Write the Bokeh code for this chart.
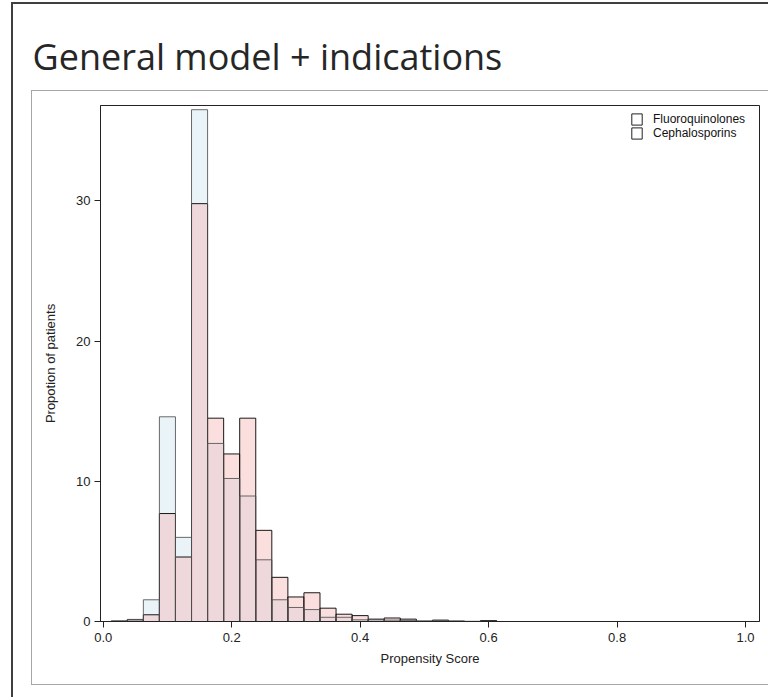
import numpy as np
from bokeh.plotting import figure
from bokeh.models import (Range1d, FixedTicker, Legend, LegendItem, InlineStyleSheet,
                          ColumnDataSource, PrintfTickFormatter, Title)
from bokeh.embed import file_html
from bokeh.resources import INLINE

# ---------------- data ----------------
bin_centers = [0.025, 0.05, 0.075, 0.1, 0.125, 0.15, 0.175, 0.2, 0.225, 0.25,
               0.275, 0.3, 0.325, 0.35, 0.375, 0.4, 0.425, 0.45, 0.475, 0.5,
               0.525, 0.55, 0.575, 0.6]
fluoroquinolones = [0.05, 0.15, 1.55, 14.6, 6.0, 36.5, 12.7, 10.2, 8.95, 4.4,
                    1.55, 1.0, 0.85, 0.3, 0.3, 0.12, 0.12, 0.1, 0.08, 0.02,
                    0.06, 0.02, 0.0, 0.04]
cephalosporins = [0.02, 0.12, 0.48, 7.7, 4.6, 29.8, 14.5, 11.95, 14.5, 6.5,
                  3.15, 1.75, 2.05, 0.95, 0.52, 0.42, 0.17, 0.25, 0.17, 0.03,
                  0.1, 0.03, 0.01, 0.07]
series_names = ["Fluoroquinolones", "Cephalosporins"]
x_ticks = [0.0, 0.2, 0.4, 0.6, 0.8, 1.0]
y_ticks = [0, 10, 20, 30]
title_text = "General model + indications"
x_label = "Propensity Score"
y_label = "Propotion of patients"

BIN_W = 0.025
centers = np.array(bin_centers)

# slide decoration (outer slide frame + chart panel) drawn as CSS background lines
css = """
:host {
  background-color: white;
  background-image:
    linear-gradient(#3F3F3F, #3F3F3F),
    linear-gradient(#3F3F3F, #3F3F3F),
    linear-gradient(#A6A6A6, #A6A6A6),
    linear-gradient(#A6A6A6, #A6A6A6),
    linear-gradient(#A6A6A6, #A6A6A6);
  background-repeat: no-repeat;
  background-position: 11px 2px, 11px 2px, 31px 90px, 31px 90px, 31px 684px;
  background-size: 2px 700px, 760px 2px, 1px 595px, 740px 1px, 740px 1px;
}
"""

p = figure(width=768, height=697, output_backend="svg", toolbar_location=None,
           x_range=Range1d(-0.0042, 1.0217), y_range=Range1d(0, 36.8),
           min_border_left=100, min_border_right=9, min_border_top=105,
           min_border_bottom=76, stylesheets=[InlineStyleSheet(css=css)])
p.background_fill_color = "white"
p.border_fill_alpha = 0
p.xgrid.visible = False
p.ygrid.visible = False
p.outline_line_color = "#222222"
p.outline_line_width = 1

p.title = Title(text=title_text, text_font="Open Sans", text_font_size="36px",
                text_font_style="normal", text_color="#262626", align="left",
                offset=-68, standoff=50)

src_f = ColumnDataSource(dict(left=centers - BIN_W / 2, right=centers + BIN_W / 2,
                              top=fluoroquinolones))
src_c = ColumnDataSource(dict(left=centers - BIN_W / 2, right=centers + BIN_W / 2,
                              top=cephalosporins))
p.quad(left="left", right="right", bottom=0, top="top", source=src_f,
       fill_color="#E9F3F8", line_color=None)
p.quad(left="left", right="right", bottom=0, top="top", source=src_c,
       fill_color="#F5B0B0", fill_alpha=0.4, line_color="black", line_alpha=0.9,
       line_width=1)
p.quad(left="left", right="right", bottom=0, top="top", source=src_f,
       fill_color=None, line_color="#505050", line_alpha=0.85, line_width=1)

# legend swatches (hidden renderers on the real data)
d1 = p.quad(left="left", right="right", bottom=0, top="top", source=src_f,
            fill_color="white", line_color="#222222", visible=False)
d2 = p.quad(left="left", right="right", bottom=0, top="top", source=src_c,
            fill_color="white", line_color="#222222", visible=False)
legend = Legend(items=[LegendItem(label=series_names[0], renderers=[d1]),
                       LegendItem(label=series_names[1], renderers=[d2])],
                location=(530, 481), orientation="vertical",
                glyph_width=13, glyph_height=14, label_height=14, label_standoff=10,
                spacing=0, padding=0, margin=0, border_line_color=None,
                background_fill_alpha=0, label_text_font="Liberation Sans",
                label_text_font_size="12px", label_text_color="#111111")
p.add_layout(legend)

# axes
p.xaxis.ticker = FixedTicker(ticks=x_ticks)
p.xaxis.formatter = PrintfTickFormatter(format="%.1f")
p.yaxis.ticker = FixedTicker(ticks=y_ticks)
for ax in (p.xaxis, p.yaxis):
    ax.minor_tick_line_color = None
    ax.major_tick_out = 6
    ax.major_tick_in = 0
    ax.axis_line_color = "#222222"
    ax.major_tick_line_color = "#222222"
    ax.major_label_text_font = "Liberation Sans"
    ax.major_label_text_font_size = "13px"
    ax.major_label_text_color = "#222222"
    ax.axis_label_text_font = "Liberation Sans"
    ax.axis_label_text_font_size = "13px"
    ax.axis_label_text_font_style = "normal"
    ax.axis_label_text_color = "#222222"
p.xaxis.axis_label = x_label
p.yaxis.axis_label = y_label
p.xaxis.major_label_standoff = 5
p.yaxis.major_label_standoff = 4
p.xaxis.axis_label_standoff = 6
p.yaxis.axis_label_standoff = 15

open("out.html", "w").write(file_html(p, INLINE))
